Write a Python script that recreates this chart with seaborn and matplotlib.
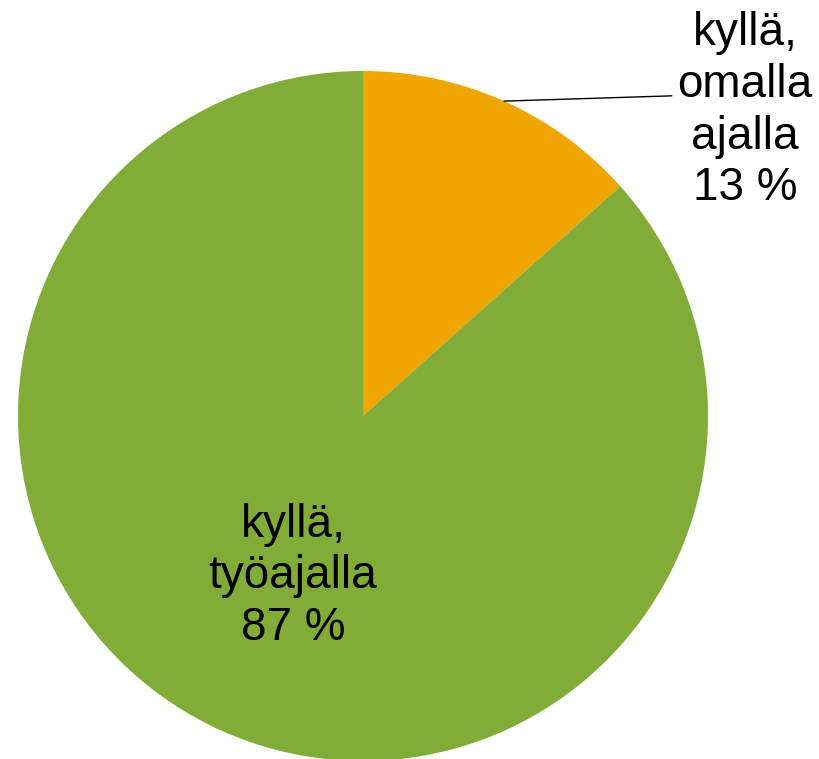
import numpy as np
import matplotlib
matplotlib.use("Agg")
import matplotlib.pyplot as plt
import seaborn as sns

# data (shares, labels as printed)
labels = ["kyllä, omalla ajalla", "kyllä, työajalla"]
label_text = ["kyllä,\nomalla\najalla\n13 %", "kyllä,\ntyöajalla\n87 %"]
shares = [13.4, 86.6]
colors = ["#F0A500", "#80AC37"]

sns.set_theme(style="white")
plt.rcParams["font.family"] = ["Liberation Sans", "DejaVu Sans"]

fig = plt.figure(figsize=(8.19, 7.59), dpi=100)
# pie circle: center (363, 416) px, radius 345 px
ax = fig.add_axes([18 / 819, -2 / 759, 690 / 819, 690 / 759])
wedges, _ = ax.pie(shares, colors=colors, startangle=90, counterclock=False,
                   radius=1.0, wedgeprops=dict(linewidth=0))
ax.set_xlim(-1, 1)
ax.set_ylim(-1, 1)
ax.set_aspect("equal")
ax.axis("off")

# outside label for the small slice with leader line
w = wedges[0]
mid = np.deg2rad((w.theta1 + w.theta2) / 2)
x0, y0 = np.cos(mid), np.sin(mid)
ax.plot([x0, 0.895], [y0, 0.928], color="black", lw=1, clip_on=False)
ax.text(1.107, 0.885, label_text[0], ha="center", va="center", fontsize=33,
        linespacing=1.23, color="black", clip_on=False)

# inside label for the large slice
ax.text(-0.203, -0.465, label_text[1], ha="center", va="center", fontsize=33,
        linespacing=1.23, color="black")

fig.savefig("out.png", dpi=100)
